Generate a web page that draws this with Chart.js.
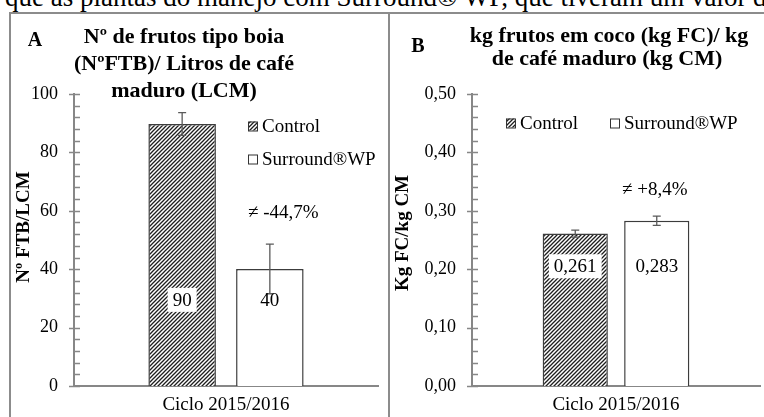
<!DOCTYPE html>
<html>
<head>
<meta charset="utf-8">
<script src="https://cdn.jsdelivr.net/npm/chart.js@4.4.1/dist/chart.umd.min.js"></script>
<style>
html, body { margin: 0; padding: 0; background: #fff; }
#page { position: relative; width: 764px; height: 417px; overflow: hidden; background: #fff; }
#topline { position: absolute; left: 5px; top: -16px; white-space: nowrap; font: 27px/26px "Liberation Serif", serif; color: #000; }
.rule { position: absolute; background: #8c8c8c; }
canvas { position: absolute; left: 0; top: 0; }
</style>
</head>
<body>
<div id="page">
  <div id="topline">que as plantas do manejo com Surround® WP, que tiveram um valor de</div>
  <div class="rule" style="left:9px;top:12px;width:755px;height:2px"></div>
  <div class="rule" style="left:9px;top:12px;width:2px;height:405px"></div>
  <div class="rule" style="left:388px;top:12px;width:2px;height:405px"></div>
  <canvas id="chartA" width="764" height="417"></canvas>
  <canvas id="chartB" width="764" height="417"></canvas>
</div>
<script>
var categories = ['Ciclo 2015/2016'];
var seriesNames = ['Control', 'Surround®WP'];

// painel A - frutos boia por litro
var ftbValues = [89.7, 40.1];
var ftbErrors = [3.9, 8.5];
var ftbLabels = ['90', '40'];
var ftbTicks = ['0', '20', '40', '60', '80', '100'];

// painel B - kg FC / kg CM
var fcValues = [0.261, 0.283];
var fcErrors = [0.006, 0.008];
var fcLabels = ['0,261', '0,283'];
var fcTicks = ['0,00', '0,10', '0,20', '0,30', '0,40', '0,50'];

Chart.defaults.font.family = '"Liberation Serif", serif';
Chart.defaults.color = '#000';

var AXIS = '#878787';
var EDGE = '#3c3c3c';

function makeHatch(ctx) {
    var c = document.createElement('canvas');
    c.width = 4; c.height = 4;
    var g = c.getContext('2d');
    g.fillStyle = '#fff';
    g.fillRect(0, 0, 4, 4);
    g.strokeStyle = '#1e1e1e';
    g.lineWidth = 1.3;
    g.beginPath();
    g.moveTo(0, 4); g.lineTo(4, 0);
    g.moveTo(-1, 1); g.lineTo(1, -1);
    g.moveTo(3, 5); g.lineTo(5, 3);
    g.stroke();
    return ctx.createPattern(c, 'repeat');
}

var extras = {
    id: 'extras',
    afterDatasetsDraw: function(chart, args, opts) {
        var ctx = chart.ctx;
        var y = chart.scales.y;
        var ax = chart.chartArea.left;
        ctx.save();

        // marcas do eixo y
        ctx.strokeStyle = AXIS;
        ctx.lineWidth = 1.5;
        var n = Math.round((y.max - y.min) / opts.minorStep);
        for (var i = 0; i <= n; i++) {
            var py = Math.round(y.getPixelForValue(y.min + i * opts.minorStep)) + 0.5;
            ctx.beginPath();
            if (i % opts.minorPerMajor === 0) {
                ctx.moveTo(ax - 5, py); ctx.lineTo(ax + 6, py);
            } else {
                ctx.moveTo(ax, py); ctx.lineTo(ax + 6, py);
            }
            ctx.stroke();
        }

        // barras de erro
        ctx.strokeStyle = '#5a5a5a';
        ctx.lineWidth = 1.3;
        chart.data.datasets.forEach(function(ds, di) {
            var bar = chart.getDatasetMeta(di).data[0];
            var v = ds.data[0], e = opts.errors[di];
            var t = y.getPixelForValue(v + e), b = y.getPixelForValue(v - e);
            ctx.beginPath();
            ctx.moveTo(bar.x, t); ctx.lineTo(bar.x, b);
            ctx.moveTo(bar.x - 4, t); ctx.lineTo(bar.x + 4, t);
            ctx.moveTo(bar.x - 4, b); ctx.lineTo(bar.x + 4, b);
            ctx.stroke();
        });

        // valores nas barras
        ctx.font = '19px "Liberation Serif", serif';
        ctx.textAlign = 'center';
        ctx.textBaseline = 'middle';
        chart.data.datasets.forEach(function(ds, di) {
            var bar = chart.getDatasetMeta(di).data[0];
            var py = y.getPixelForValue(opts.labelAt);
            var txt = opts.labels[di];
            if (di === 0) {
                var w = ctx.measureText(txt).width + 10;
                ctx.fillStyle = '#fff';
                ctx.fillRect(bar.x - w / 2, py - 12, w, 24);
            }
            ctx.fillStyle = '#000';
            ctx.fillText(txt, bar.x, py + 1);
        });

        // legenda
        ctx.textAlign = 'left';
        opts.legend.forEach(function(p, di) {
            var ds = chart.data.datasets[di];
            ctx.fillStyle = ds.backgroundColor;
            ctx.fillRect(p[0], p[1] - 4.5, 9, 9);
            ctx.strokeStyle = '#333';
            ctx.lineWidth = 1;
            ctx.strokeRect(p[0] + 0.5, p[1] - 4, 9, 9);
            ctx.fillStyle = '#000';
            ctx.fillText(ds.label, p[0] + 14, p[1] + 1);
        });

        // diferenca
        ctx.fillText(opts.diff[0], opts.diff[1], opts.diff[2]);

        // titulo
        ctx.font = 'bold 22px "Liberation Serif", serif';
        ctx.textBaseline = 'alphabetic';
        ctx.textAlign = 'center';
        opts.title.forEach(function(l) { ctx.fillText(l[0], l[1], l[2]); });
        ctx.font = 'bold 20px "Liberation Serif", serif';
        ctx.fillText(opts.letter[0], opts.letter[1], opts.letter[2]);

        // titulo do eixo y
        ctx.font = 'bold 19px "Liberation Serif", serif';
        ctx.textBaseline = 'middle';
        ctx.translate(opts.yTitle[1], opts.yTitle[2]);
        ctx.rotate(-Math.PI / 2);
        ctx.fillText(opts.yTitle[0], 0, 0);
        ctx.restore();
    }
};

function makeChart(id, values, tickLabels, cfg) {
    var ctx = document.getElementById(id).getContext('2d');
    return new Chart(ctx, {
        type: 'bar',
        data: {
            labels: categories,
            datasets: [
                { label: seriesNames[0], data: [values[0]], backgroundColor: makeHatch(ctx), borderColor: EDGE, borderWidth: 1.5 },
                { label: seriesNames[1], data: [values[1]], backgroundColor: '#fff', borderColor: EDGE, borderWidth: 1.5 }
            ]
        },
        options: {
            responsive: false,
            animation: false,
            categoryPercentage: cfg.catPct,
            barPercentage: cfg.barPct,
            layout: { padding: cfg.padding },
            plugins: {
                legend: { display: false },
                tooltip: { enabled: false },
                extras: cfg.extras
            },
            scales: {
                x: {
                    grid: { display: false, drawTicks: false },
                    border: { color: AXIS, width: 2 },
                    ticks: { font: { size: 19 }, color: '#000', padding: 8 },
                    afterFit: function(s) { s.height = 31; }
                },
                y: {
                    min: 0,
                    max: cfg.max,
                    grid: { display: false, drawTicks: false },
                    border: { color: AXIS, width: 2 },
                    ticks: {
                        stepSize: cfg.step,
                        font: { size: 18 },
                        color: '#000',
                        padding: 16,
                        callback: function(value, index) { return tickLabels[index]; }
                    },
                    afterFit: function(s) { s.width = cfg.yWidth; }
                }
            }
        },
        plugins: [extras]
    });
}

makeChart('chartA', ftbValues, ftbTicks, {
    max: 100, step: 20, yWidth: 74,
    padding: { left: 0, right: 386, top: 94, bottom: 0 },
    catPct: 0.577, barPct: 0.77,
    extras: {
        minorStep: 4, minorPerMajor: 5,
        errors: ftbErrors, labels: ftbLabels, labelAt: 29.5,
        legend: [[248, 126], [248, 159]],
        diff: ['≠ -44,7%', 248, 213],
        title: [['Nº de frutos tipo boia', 184, 43], ['(NºFTB)/ Litros de café', 184, 70], ['maduro (LCM)', 184, 97]],
        letter: ['A', 35, 46],
        yTitle: ['Nº FTB/LCM', 24, 227]
    }
});

makeChart('chartB', fcValues, fcTicks, {
    max: 0.5, step: 0.1, yWidth: 84,
    padding: { left: 388, right: 4, top: 94, bottom: 0 },
    catPct: 0.566, barPct: 0.8,
    extras: {
        minorStep: 0.02, minorPerMajor: 5,
        errors: fcErrors, labels: fcLabels, labelAt: 0.205,
        legend: [[506, 123], [610, 123]],
        diff: ['≠ +8,4%', 622, 190],
        title: [['kg frutos em coco (kg FC)/ kg', 609, 42], ['de café maduro (kg CM)', 607, 65]],
        letter: ['B', 418, 52],
        yTitle: ['Kg FC/kg CM', 403, 233]
    }
});
</script>
</body>
</html>
